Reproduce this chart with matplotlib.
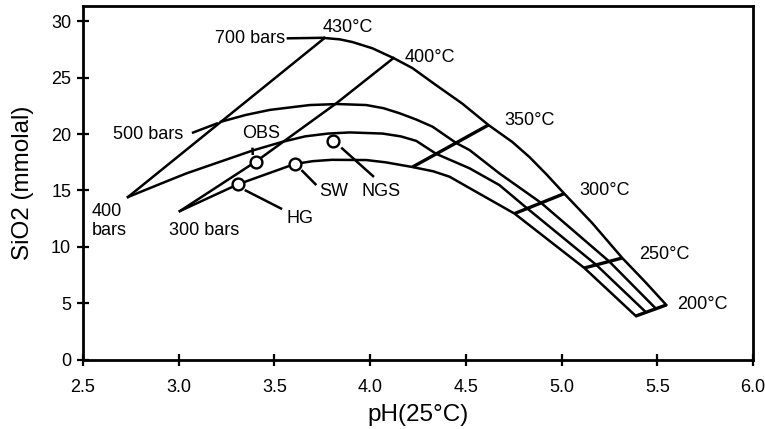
#!/usr/bin/env python3
"""
SiO2 vs pH(25°C) — quartz solubility grid of isobars and isotherms,
with the measured vent fluids (OBS, HG, SW, NGS) marked as open circles.
"""

import matplotlib
matplotlib.use("Agg")
import matplotlib.pyplot as plt

plt.rcParams["font.family"] = ["Liberation Sans", "DejaVu Sans"]


# ─────────────────────────────────────────────────────────────────────────────
# Data
# ─────────────────────────────────────────────────────────────────────────────

# isobars: pH, SiO2 (mmolal)
ph_700 = [3.762, 3.841, 3.908, 4.013, 4.122, 4.221, 4.340, 4.482, 4.618, 4.743, 4.832,
          4.920, 5.014, 5.160, 5.317, 5.442, 5.547]
si_700 = [28.53, 28.41, 28.17, 27.61, 26.75, 25.86, 24.40, 22.70, 20.81, 19.30, 17.97,
          16.45, 14.72, 12.11, 9.01, 6.79, 4.84]

ph_500 = [3.221, 3.350, 3.476, 3.684, 3.830, 3.980, 4.070, 4.154, 4.240, 4.326, 4.449,
          4.519, 4.675, 4.893, 5.249, 5.493]
si_500 = [21.10, 21.70, 22.15, 22.58, 22.67, 22.58, 22.30, 21.85, 21.30, 20.66, 19.22,
          18.59, 16.52, 13.90, 8.70, 4.51]

ph_400 = [2.735, 2.954, 3.041, 3.387, 3.538, 3.660, 3.780, 3.893, 4.065, 4.160, 4.241,
          4.345, 4.519, 4.675, 4.814, 5.181, 5.441]
si_400 = [14.42, 15.93, 16.52, 18.55, 19.30, 19.80, 20.05, 20.15, 20.05, 19.80, 19.40,
          18.25, 16.97, 15.48, 13.50, 8.40, 4.19]

ph_300 = [3.006, 3.310, 3.606, 3.700, 3.800, 3.980, 4.080, 4.154, 4.221, 4.330, 4.415,
          4.510, 4.754, 5.119, 5.388]
si_300 = [13.17, 15.55, 17.35, 17.60, 17.72, 17.70, 17.50, 17.28, 17.08, 16.70, 16.22,
          15.30, 12.95, 8.12, 3.86]

# isotherms
ph_430 = [2.735, 3.762]
si_430 = [14.42, 28.53]
ph_400c = [3.006, 3.402, 3.823, 4.122]
si_400c = [13.17, 17.55, 22.73, 26.75]
ph_350 = [4.221, 4.618]
si_350 = [17.08, 20.81]
ph_300c = [4.754, 5.014]
si_300c = [12.95, 14.72]
ph_250 = [5.119, 5.317]
si_250 = [8.12, 9.01]
ph_200 = [5.388, 5.547]
si_200 = [3.86, 4.84]

# vent fluids
sites = ["OBS", "HG", "SW", "NGS"]
site_ph = [3.402, 3.310, 3.606, 3.804]
site_si = [17.55, 15.55, 17.35, 19.38]

x_ticks = [2.5, 3.0, 3.5, 4.0, 4.5, 5.0, 5.5, 6.0]
y_ticks = [0, 5, 10, 15, 20, 25, 30]


# ─────────────────────────────────────────────────────────────────────────────
# Plotting
# ─────────────────────────────────────────────────────────────────────────────

LW = 1.8
FS = 13


def leader(ax, x0, y0, x1, y1):
    ax.plot([x0, x1], [y0, y1], color="black", lw=LW, solid_capstyle="butt", zorder=2)


def main():
    fig = plt.figure(figsize=(7.65, 4.29), dpi=100)
    ax = fig.add_axes([83 / 765, 69.5 / 429, 670 / 765, 353.5 / 429])

    # isobars
    for xs, ys in [(ph_700, si_700), (ph_500, si_500), (ph_400, si_400), (ph_300, si_300)]:
        ax.plot(xs, ys, color="black", lw=LW, solid_joinstyle="round", zorder=2)

    # isotherms
    ax.plot(ph_430, si_430, color="black", lw=LW, zorder=2)
    ax.plot(ph_400c, si_400c, color="black", lw=LW, zorder=2)
    for xs, ys in [(ph_350, si_350), (ph_300c, si_300c), (ph_250, si_250), (ph_200, si_200)]:
        ax.plot(xs, ys, color="black", lw=2.4, solid_capstyle="butt", zorder=2)

    # vent fluids
    ax.plot(site_ph, site_si, "o", ms=8.5, mfc="white", mec="black", mew=1.7, zorder=3)

    # leaders
    leader(ax, 3.564, 28.50, 3.762, 28.55)   # 700 bars
    leader(ax, 3.069, 20.10, 3.205, 20.98)   # 500 bars
    leader(ax, 3.387, 18.15, 3.385, 18.80)   # OBS
    leader(ax, 3.641, 16.81, 3.719, 15.48)   # SW
    leader(ax, 3.849, 18.80, 4.020, 16.20)   # NGS
    leader(ax, 3.345, 15.04, 3.540, 13.35)   # HG

    # labels
    kw = dict(fontsize=FS, color="black")
    ax.text(3.554, 28.48, "700 bars", ha="right", va="center", **kw)
    ax.text(3.022, 20.00, "500 bars", ha="right", va="center", **kw)
    ax.text(2.547, 12.30, "400\nbars", ha="left", va="center", linespacing=1.15, **kw)
    ax.text(3.131, 11.49, "300 bars", ha="center", va="center", **kw)

    ax.text(3.432, 20.07, "OBS", ha="center", va="center", **kw)
    ax.text(3.632, 12.47, "HG", ha="center", va="center", **kw)
    ax.text(3.812, 14.92, "SW", ha="center", va="center", **kw)
    ax.text(4.055, 14.95, "NGS", ha="center", va="center", **kw)

    ax.text(3.882, 29.50, "430°C", ha="center", va="center", **kw)
    ax.text(4.180, 26.84, "400°C", ha="left", va="center", **kw)
    ax.text(4.700, 21.25, "350°C", ha="left", va="center", **kw)
    ax.text(5.093, 15.04, "300°C", ha="left", va="center", **kw)
    ax.text(5.406, 9.36, "250°C", ha="left", va="center", **kw)
    ax.text(5.604, 4.92, "200°C", ha="left", va="center", **kw)

    # axes
    ax.set_xlim(2.5, 6.0)
    ax.set_ylim(0, 31.37)
    ax.set_xticks(x_ticks)
    ax.set_xticklabels([f"{v:.1f}" for v in x_ticks])
    ax.set_yticks(y_ticks)
    ax.set_yticklabels([str(v) for v in y_ticks])
    ax.tick_params(direction="inout", length=9, width=1.6, labelsize=FS,
                   top=False, right=False)
    ax.tick_params(axis="x", pad=9.5)
    ax.tick_params(axis="y", pad=4)
    for sp in ax.spines.values():
        sp.set_linewidth(2.0)

    ax.set_xlabel("pH(25°C)", fontsize=17.5, labelpad=6)
    ax.set_ylabel("SiO2 (mmolal)", fontsize=17.5, labelpad=12)

    fig.savefig("out.png", dpi=100)
    plt.close(fig)


if __name__ == "__main__":
    main()
